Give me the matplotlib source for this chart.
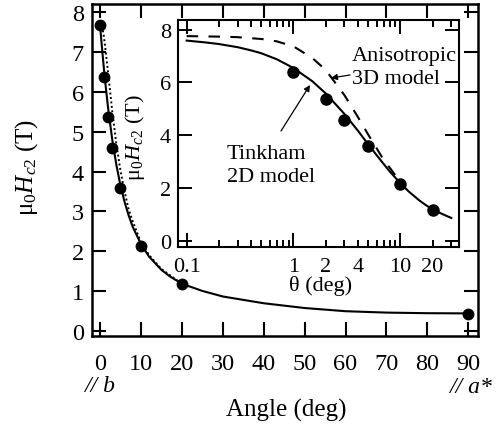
import matplotlib
matplotlib.use('Agg')
import matplotlib.pyplot as plt
from matplotlib.ticker import FixedLocator, FuncFormatter

plt.rcParams['font.family'] = ['Liberation Serif', 'DejaVu Serif']
plt.rcParams['mathtext.fontset'] = 'custom'
plt.rcParams['mathtext.rm'] = 'Liberation Serif'
plt.rcParams['mathtext.it'] = 'Liberation Serif:italic'

# measured points (angle in deg, mu0 Hc2 in T)
angle_data = [0, 1, 2, 3, 5, 10, 20, 90]
hc2_data = [7.68, 6.38, 5.36, 4.58, 3.58, 2.14, 1.18, 0.43]

# Tinkham 2D model curve
tink_theta = [0, 0.1, 0.15, 0.2, 0.3, 0.4, 0.5, 0.7, 1, 1.5, 2, 3, 4, 5, 6, 7,
              8, 10, 12, 15, 17, 20, 25, 30, 40, 50, 60, 70, 80, 90]
tink_h = [7.70, 7.58, 7.51, 7.45, 7.33, 7.21, 7.10, 6.87, 6.54, 6.04, 5.58,
          4.80, 4.17, 3.65, 3.24, 2.90, 2.61, 2.18, 1.86, 1.53, 1.37, 1.18,
          1.00, 0.86, 0.69, 0.57, 0.49, 0.455, 0.44, 0.435]

# Anisotropic 3D model curve
aniso_theta = [0, 0.1, 0.2, 0.3, 0.5, 0.7, 1, 1.5, 2, 3, 4, 5, 6, 7, 8, 10,
               12, 15, 20]
aniso_h = [7.75, 7.75, 7.73, 7.71, 7.64, 7.55, 7.36, 6.92, 6.47, 5.51, 4.69,
           4.02, 3.50, 3.05, 2.75, 2.22, 1.90, 1.55, 1.18]

main_xticks = [0, 10, 20, 30, 40, 50, 60, 70, 80, 90]
main_yticks = [0, 1, 2, 3, 4, 5, 6, 7, 8]
inset_xmajor = [0.1, 1, 10]
inset_xlabels_minor = [2, 4, 20]
inset_yticks = [0, 2, 4, 6, 8]

W, H = 503, 427
fig = plt.figure(figsize=(W / 100, H / 100), dpi=100)


def fx(x):
    return x / W


def fy(y):
    return 1 - y / H


def axrect(x0, y0, x1, y1):
    return [fx(x0), fy(y1), fx(x1) - fx(x0), fy(y0) - fy(y1)]


# ---------------- main axes ----------------
ax = fig.add_axes(axrect(92, 5, 478, 337))
ax.plot(tink_theta, tink_h, color='black', lw=1.5, zorder=3)
ax.plot(aniso_theta, aniso_h, color='black', lw=1.4, dashes=(1.0, 1.3), zorder=2)
ax.plot(angle_data, hc2_data, 'o', color='black', ms=7.5, zorder=4)
ax.set_xlim(-1.95, 92.37)
ax.set_ylim(-0.133, 8.209)
ax.set_xticks(main_xticks)
ax.set_yticks(main_yticks)
for s in ax.spines.values():
    s.set_linewidth(1.8)
ax.tick_params(which='both', direction='in', top=True, right=True,
               length=10, width=1.5, labelsize=17.5)
ax.tick_params(axis='x', pad=12)
ax.tick_params(axis='y', pad=6)

fig.text(fx(286), fy(410), 'Angle (deg)', fontsize=18, ha='center', va='center')
fig.text(fx(27), fy(167), r'μ$_0$$H_{c\mathrm{2}}$ (T)', fontsize=18,
         ha='center', va='center', rotation=90)
fig.text(fx(100), fy(387), '// b', fontsize=17, style='italic', ha='center', va='center')
fig.text(fx(471), fy(388), '// a*', fontsize=17, style='italic', ha='center', va='center')

# ---------------- inset axes ----------------
ins = fig.add_axes(axrect(178, 21, 459, 248))
ins.set_facecolor('white')
ins.set_zorder(5)
sel = [i for i, t in enumerate(tink_theta) if 0.1 <= t <= 30]
ins.plot([tink_theta[i] for i in sel], [tink_h[i] for i in sel],
         color='black', lw=1.5, zorder=3)
sel3 = [i for i, t in enumerate(aniso_theta) if 0.1 <= t <= 10]
ins.plot([aniso_theta[i] for i in sel3], [aniso_h[i] for i in sel3],
         color='black', lw=1.5, dashes=(5.5, 5.0), zorder=2)
seld = [i for i, t in enumerate(angle_data) if 0.1 <= t <= 30]
ins.plot([angle_data[i] for i in seld], [hc2_data[i] for i in seld], 'o',
         color='black', ms=8, zorder=4)
ins.set_xscale('log')
ins.set_xlim(0.083, 35.4)
ins.set_ylim(-0.24, 8.36)
ins.xaxis.set_major_locator(FixedLocator(inset_xmajor))
minors = [m * d for d in (0.1, 1, 10) for m in range(2, 10) if m * d < 36]
ins.xaxis.set_minor_locator(FixedLocator(minors))
ins.xaxis.set_major_formatter(FuncFormatter(lambda v, p: '%g' % v))
ins.xaxis.set_minor_formatter(FuncFormatter(
    lambda v, p: ('%g' % v) if any(abs(v - m) < 1e-6 for m in inset_xlabels_minor) else ''))
ins.set_yticks(inset_yticks)
for s in ins.spines.values():
    s.set_linewidth(1.5)
ins.tick_params(which='both', direction='in', top=True, right=True,
                width=1.4, labelsize=16)
ins.tick_params(which='major', length=10)
ins.tick_params(which='minor', length=5)
ins.tick_params(axis='x', which='both', pad=7)
ins.tick_params(axis='y', pad=5)

fig.text(fx(321), fy(286), 'θ (deg)', fontsize=16, ha='center', va='center')
fig.text(fx(135), fy(138), r'μ$_0$$H_{c\mathrm{2}}$ (T)', fontsize=16,
         ha='center', va='center', rotation=90)

# annotations
fig.text(fx(352), fy(57), 'Anisotropic', fontsize=16, ha='left', va='center', zorder=10)
fig.text(fx(352), fy(80), '3D model', fontsize=16, ha='left', va='center', zorder=10)
fig.text(fx(227), fy(155), 'Tinkham', fontsize=16, ha='left', va='center', zorder=10)
fig.text(fx(227), fy(178), '2D model', fontsize=16, ha='left', va='center', zorder=10)

arrow = dict(arrowstyle='-|>', color='black', lw=0.9, mutation_scale=9,
             shrinkA=0, shrinkB=0)
ins.annotate('', xy=(fx(331), fy(79)), xycoords='figure fraction',
             xytext=(fx(350), fy(76)), textcoords='figure fraction',
             arrowprops=arrow, zorder=10)
ins.annotate('', xy=(fx(310), fy(86)), xycoords='figure fraction',
             xytext=(fx(281), fy(132)), textcoords='figure fraction',
             arrowprops=arrow, zorder=10)

fig.savefig('out.png', dpi=100)
